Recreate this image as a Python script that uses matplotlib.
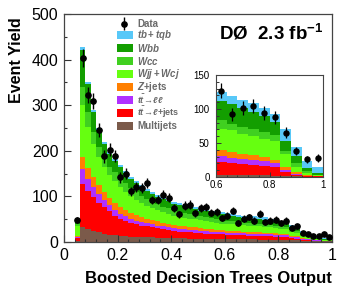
import numpy as np
import matplotlib
matplotlib.use("Agg")
import matplotlib.pyplot as plt
from matplotlib.patches import Rectangle
from matplotlib.ticker import MultipleLocator

plt.rcParams['font.family'] = ['Liberation Sans', 'DejaVu Sans']
plt.rcParams['mathtext.fontset'] = 'custom'
plt.rcParams['mathtext.rm'] = 'Liberation Sans:bold'
plt.rcParams['mathtext.it'] = 'Liberation Sans:bold:italic'
plt.rcParams['mathtext.bf'] = 'Liberation Sans:bold'

# ---------------- data: main histogram (bins of 0.02 from 0.04 to 1.00)
bin_lo, bin_hi, bin_w = 0.04, 1.00, 0.02
data_counts = [48, 404, 322, 309, 245, 188, 202, 189, 142, 150, 111, 120, 118, 129, 92, 93,
               104, 97, 74, 61, 80, 82, 63, 74, 77, 64, 66, 53, 58, 69, 42, 51,
               55, 47, 62, 43, 47, 49, 42, 47, 31, 34, 20, 18, 14, 13, 18, 11]
multijets = [3, 33, 28, 24, 21, 18, 16, 15, 14, 13, 12, 11.5, 11, 10.5, 10, 9.5,
             9, 9, 8.5, 8, 8, 7.5, 7.5, 7, 7, 7, 6.5, 6.5, 6, 6, 6, 5.5,
             5.5, 5.5, 5, 5, 5, 5, 4.5, 4.5, 4, 4, 3, 3, 2, 2, 1.5, 1.5]
tt_ljets = [5, 95, 84, 74, 65, 58, 51, 43, 37, 33, 30, 27.5, 25, 23.5, 22, 20.5,
            19, 17, 15.5, 15, 14, 13.5, 12.5, 12, 11.5, 11, 10.5, 10, 10, 9.5, 9, 9,
            8.5, 8.5, 8.5, 8, 7.5, 7, 7, 6.5, 4, 3, 1.5, 1, 1, 0.5, 0.5, 0.5]
tt_ll = [3, 31, 26, 22, 19, 16, 14, 13, 11, 10, 9, 8, 8, 7, 6.5, 6,
         6, 6, 6, 6, 6, 6, 6, 6, 5.5, 5, 5, 4.5, 4.5, 4.5, 4.5, 4.5,
         4.5, 4, 4, 4, 4, 4, 3.5, 3.5, 3, 3, 2.5, 2, 1, 1, 0.5, 0.5]
zjets = [2, 28, 25, 22, 19, 17, 16, 15, 15, 14, 13, 12, 11, 10, 9.5, 9,
         8, 8, 7, 7, 6, 6, 6, 5, 5, 5, 5, 5, 4.5, 4, 4, 4,
         3.5, 3.5, 3.5, 3.5, 3.5, 3, 3, 2.5, 2.5, 2.5, 1.5, 1.5, 1, 1, 0.5, 0.5]
wjj_wcj = [23, 113, 90, 72, 62, 55, 50, 48, 44, 40, 36, 33, 30, 28, 25.5, 24.5,
           23.5, 21.5, 20.5, 19.5, 19.5, 18.5, 17.5, 17.5, 16.5, 15.5, 15.5, 14.5, 15, 15, 14.5, 14,
           14, 13.5, 13, 12.5, 12, 12, 11, 11, 8.5, 7.5, 4.5, 3.5, 2, 1.5, 1, 0.5]
wcc = [4, 41, 33, 27, 23, 20, 18, 19, 20, 19, 18, 17, 16, 15, 14, 13,
       12, 12, 12, 11, 10, 10, 9, 9, 9, 9, 8, 8, 7, 7, 7, 6,
       6, 6, 6, 6, 5, 5, 5, 5, 4, 4, 3, 3, 1.5, 1.5, 1, 1]
wbb = [4, 81, 60, 43, 37, 30, 28, 25, 23, 22, 21, 20, 19, 18, 17.5, 16.5,
       16.5, 15.5, 14.5, 14.5, 14.5, 13.5, 13.5, 12.5, 12.5, 12.5, 12.5, 12.5, 11, 10, 10, 10,
       10, 10, 10, 9, 8, 8, 8, 7, 7, 6, 4, 3, 2, 1.5, 1, 1]
tb_tqb = [2, 5, 5, 5, 5, 5, 4, 4, 4, 4, 4, 4, 4, 4, 4, 4,
          4, 4, 4, 4, 4, 4, 4, 4, 4, 4, 4, 4, 5, 5, 5, 5,
          5.5, 5, 5.5, 6, 6, 6, 5, 5, 5, 5, 4, 4, 3.5, 3, 3, 2.5]

# ---------------- data: inset histogram (bins of 0.04 from 0.6 to 1.0)
ins_lo, ins_hi, ins_w = 0.6, 1.0, 0.04
ins_data = [127, 92.5, 101, 104, 94, 88, 65, 38, 26, 28]
ins_multijets = [3.5, 3, 2.5, 2.5, 2.5, 2, 1.5, 1, 0.5, 0.3]
ins_tt_ljets = [18.5, 17, 16, 15, 13.5, 12.5, 6.5, 1.5, 0.5, 0.7]
ins_tt_ll = [9, 8.5, 7.5, 7.5, 7, 5.5, 3, 2.5, 1, 0.5]
ins_zjets = [9, 8.5, 7.5, 7, 7, 5, 4, 2, 1, 0.5]
ins_wjj_wcj = [31, 31.5, 30, 29, 26, 28.5, 18.5, 8, 3, 0.5]
ins_wcc = [12.5, 10, 10, 9, 10, 8.5, 5, 5, 2.5, 1]
ins_wbb = [28.5, 28.5, 27.5, 25, 24, 19, 15, 11, 5, 2.5]
ins_tb_tqb = [13, 11.5, 12.5, 13.5, 11, 11, 17.5, 13.5, 10, 9]

labels = ["Multijets", r"$t\bar{t}\!\rightarrow\!\ell$+jets", r"$t\bar{t}\!\rightarrow\!\ell\ell$",
          r"$Z$+jets", r"$Wjj+Wcj$", r"$Wcc$", r"$Wbb$", r"$tb+tqb$"]
colors = ["#7b5a4a", "#ff0000", "#b030ff", "#ff7f00", "#66ff10", "#40d020", "#139e00", "#58c8f8"]


def draw_stack(ax, edges, comps, data, ms, elw):
    base = np.zeros(len(edges) - 1)
    for vals, col in zip(comps, colors):
        top = base + np.asarray(vals, float)
        ax.stairs(top, edges, baseline=base, fill=True, color=col, linewidth=0)
        base = top
    centers = 0.5 * (edges[:-1] + edges[1:])
    d = np.asarray(data, float)
    ax.errorbar(centers, d, yerr=np.sqrt(d), fmt='o', ms=ms, color='black',
                elinewidth=elw, capsize=0, zorder=5)


fig = plt.figure(figsize=(3.46, 2.93), dpi=100)
ax = fig.add_axes([64/346, 1-242/293, 268/346, 228/293])
edges = np.arange(bin_lo, bin_hi + bin_w/2, bin_w)
draw_stack(ax, edges, [multijets, tt_ljets, tt_ll, zjets, wjj_wcj, wcc, wbb, tb_tqb],
           data_counts, 3.8, 1.0)
ax.set_xlim(0, 1)
ax.set_ylim(0, 500)
ax.xaxis.set_minor_locator(MultipleLocator(0.04))
ax.yaxis.set_major_locator(MultipleLocator(100))
ax.yaxis.set_minor_locator(MultipleLocator(50))
ax.set_xticks([0, 0.2, 0.4, 0.6, 0.8, 1.0])
ax.set_xticklabels(["0", "0.2", "0.4", "0.6", "0.8", "1"])
ax.tick_params(which='both', direction='in', top=False, right=False, labelsize=11.5,
               color='#333333', width=0.8)
ax.tick_params(which='major', length=5, pad=4)
ax.tick_params(which='minor', length=2.5)
for s in ax.spines.values():
    s.set_color('#444444')
    s.set_linewidth(0.9)

fig.text(17/346, 1-60/293, "Event Yield", rotation=90, ha='center', va='center',
         fontsize=11.5, fontweight='bold')
fig.text(332/346, 1-278/293, "Boosted Decision Trees Output", ha='right', va='center',
         fontsize=12, fontweight='bold')
ax.text(0.968, 0.915, r"DØ  2.3 fb$^{-1}$", transform=ax.transAxes, ha='right',
        va='center', fontsize=13.5, fontweight='bold')

# legend (manual, axes fraction)
leg_y = [0.957, 0.909, 0.852, 0.795, 0.738, 0.681, 0.624, 0.567, 0.510]
leg_txt_col = '#6a6a6a'
ax.errorbar([0.225], [leg_y[0]], yerr=[0.028], fmt='o', ms=3.8, color='black',
            elinewidth=1.0, capsize=0, transform=ax.transAxes, clip_on=False)
ax.text(0.272, leg_y[0], "Data", transform=ax.transAxes, ha='left', va='center',
        fontsize=7.0, fontweight='bold', color=leg_txt_col)
order = list(range(7, -1, -1))
for k, idx in enumerate(order):
    yy = leg_y[k + 1]
    ax.add_patch(Rectangle((0.198, yy - 0.018), 0.06, 0.036, transform=ax.transAxes,
                           facecolor=colors[idx], edgecolor='none', zorder=6))
    fs = 6.5 if idx in (1, 2) else 7.0
    ax.text(0.272, yy, labels[idx], transform=ax.transAxes, ha='left', va='center',
            fontsize=fs, fontweight='bold', color=leg_txt_col)

# inset
axi = fig.add_axes([216/346, 1-177/293, 107/346, 102/293])
iedges = np.arange(ins_lo, ins_hi + ins_w/2, ins_w)
draw_stack(axi, iedges, [ins_multijets, ins_tt_ljets, ins_tt_ll, ins_zjets, ins_wjj_wcj,
                         ins_wcc, ins_wbb, ins_tb_tqb], ins_data, 3.6, 0.9)
axi.set_xlim(0.6, 1.0)
axi.set_ylim(0, 150)
axi.set_xticks([0.6, 0.8, 1.0])
axi.set_xticklabels(["0.6", "0.8", "1"])
axi.xaxis.set_minor_locator(MultipleLocator(0.04))
axi.yaxis.set_major_locator(MultipleLocator(50))
axi.yaxis.set_minor_locator(MultipleLocator(10))
axi.tick_params(which='both', direction='in', top=False, right=False, labelsize=7,
                color='#333333', width=0.7)
axi.tick_params(axis='x', which='major', length=3.5, pad=2.5)
axi.tick_params(axis='y', which='major', length=3.5, pad=4.5)
axi.tick_params(which='minor', length=1.8)
for s in axi.spines.values():
    s.set_color('#444444')
    s.set_linewidth(0.8)

fig.savefig("out.png", dpi=100)
